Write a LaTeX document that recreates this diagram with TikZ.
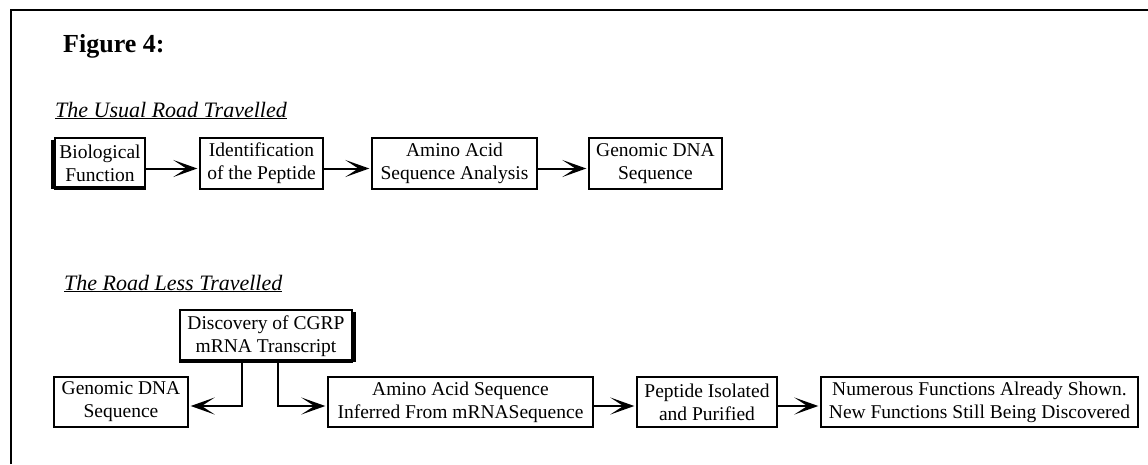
\documentclass[tikz,border=0pt]{standalone}
\usepackage{fontspec}
\setmainfont{Liberation Serif}
\usetikzlibrary{arrows.meta}
\tikzset{
  box/.style={draw, line width=1.4pt, inner sep=0pt, align=center,
    font=\fontsize{19.5}{23}\selectfont},
  conn/.style={line width=2pt, -{Stealth[length=24pt,width=17pt,inset=13pt]}, shorten >=2pt},
  title/.style={anchor=base west, inner sep=0pt, font=\fontsize{22}{26}\selectfont\itshape},
}
\begin{document}
\begin{tikzpicture}[x=1pt,y=-1pt]
\useasboundingbox (0,0) rectangle (1148,464);
% frame
\draw[line width=1.6pt] (11,464) -- (11,10) -- (1148,10);
\node[anchor=base west, inner sep=0pt, font=\fontsize{26}{30}\selectfont\bfseries] (fig) at (63,52) {Figure 4:};
\node[title] (t1) at (55,117) {\underline{The Usual Road Travelled}};
\node[title] (t2) at (64,290) {\underline{The Road Less Travelled}};
% row 1
\node[box, minimum width=90pt, minimum height=51pt] (bio) at (100,163.5) {Biological\\Function};
\node[box, minimum width=123pt, minimum height=51pt] (ident) at (261.5,163.5) {Identification\\of the Peptide};
\node[box, minimum width=165pt, minimum height=51pt] (amino1) at (454.5,163.5) {Amino Acid\\Sequence Analysis};
\node[box, minimum width=133pt, minimum height=51pt] (gen1) at (655.5,163.5) {Genomic DNA\\Sequence};
\draw[line width=3pt] ([xshift=-2pt,yshift=-3pt]bio.north west) -- ([xshift=-2pt,yshift=2pt]bio.south west) -- ([yshift=2pt]bio.south east);
\draw[conn] ([yshift=-5pt]bio.east) -- ([yshift=-5pt]ident.west);
\draw[conn] ([yshift=-5pt]ident.east) -- ([yshift=-5pt]amino1.west);
\draw[conn] ([yshift=-5pt]amino1.east) -- ([yshift=-5pt]gen1.west);
% row 2
\node[box, minimum width=172pt, minimum height=52pt] (disc) at (266,336) {Discovery of CGRP\\mRNA Transcript};
\draw[line width=3pt] ([xshift=2pt,yshift=-3pt]disc.north east) -- ([xshift=2pt,yshift=2pt]disc.south east) -- ([yshift=2pt]disc.south west);
\node[box, minimum width=134pt, minimum height=50pt] (gen2) at (121,402) {Genomic DNA\\Sequence};
\node[box, minimum width=265pt, minimum height=50pt] (amino2) at (460.5,402) {Amino Acid Sequence\\Inferred From mRNASequence};
\node[box, minimum width=140pt, minimum height=50pt] (pep) at (707,402) {Peptide Isolated\\and Purified};
\node[box, minimum width=317pt, minimum height=50pt] (num) at (979.5,402) {Numerous Functions Already Shown.\\New Functions Still Being Discovered};
\draw[conn] ([xshift=-24pt]disc.south) |- ([yshift=-4pt]gen2.east);
\draw[conn] ([xshift=12pt]disc.south) |- ([yshift=-4pt]amino2.west);
\draw[conn] ([yshift=-4pt]amino2.east) -- ([yshift=-4pt]pep.west);
\draw[conn] ([yshift=-4pt]pep.east) -- ([yshift=-4pt]num.west);
\end{tikzpicture}
\end{document}
